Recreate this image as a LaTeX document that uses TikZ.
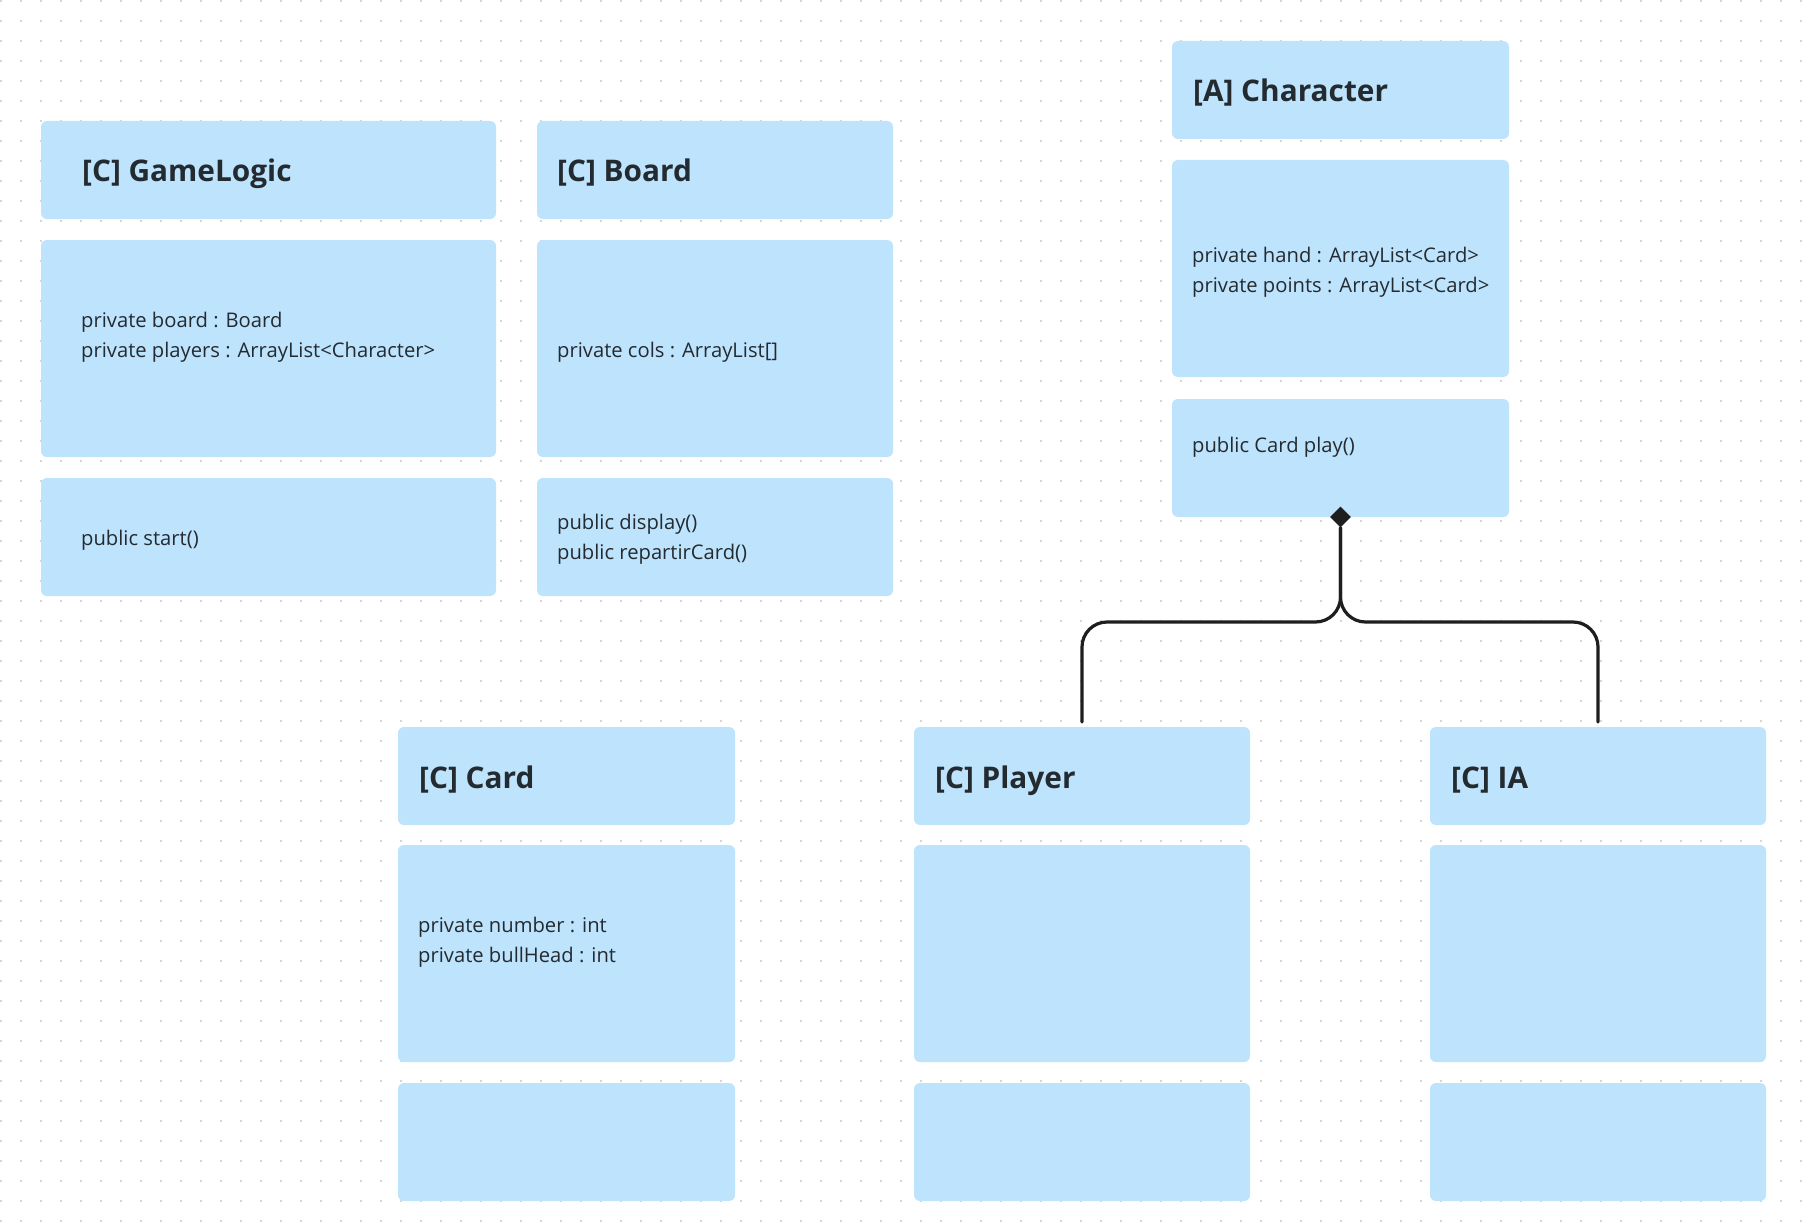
\documentclass[tikz,border=0pt]{standalone}
\usepackage{fontspec}
\setmainfont{Open Sans}
\usetikzlibrary{shapes.geometric}
\definecolor{boxblue}{HTML}{BEE3FD}
\definecolor{inkc}{HTML}{242B30}
\definecolor{dotc}{HTML}{C8C8C8}
\definecolor{linec}{HTML}{1E1E1E}
\tikzset{
  umlbox/.style={fill=boxblue, rounded corners=6pt, inner sep=0pt, outer sep=0pt, anchor=north west, minimum width=#1},
  hdr/.style={umlbox=#1, minimum height=98pt},
  attrbox/.style={umlbox=#1, minimum height=217pt},
  methbox/.style={umlbox=#1, minimum height=118pt},
  ttl/.style={anchor=base west, inner sep=0pt, text=inkc, font=\fontsize{29.8}{36}\selectfont\bfseries},
  body/.style={anchor=base west, inner sep=0pt, text=inkc, font=\fontsize{20.2}{30}\selectfont, align=left},
  conn/.style={draw=linec, line width=3.2pt, line cap=round, rounded corners=25pt},
}
\begin{document}
\begin{tikzpicture}[x=1pt,y=-1pt]
\useasboundingbox (0,0) rectangle (1810,1228);
\fill[white] (0,0) rectangle (1810,1228);
\foreach \i in {0,...,90}{
  \foreach \j in {0,...,61}{
    \fill[dotc] (1+20*\i,1+20*\j) circle (1.2pt);
  }
}
% GameLogic
\node[hdr=455pt] (glH) at (41,121) {};
\node[attrbox=455pt] (glA) at (41,240) {};
\node[methbox=455pt] (glM) at (41,478) {};
\node[ttl] (glT) at (82,182) {[C] GameLogic};
\node[body] (glAt) at (81,357) {private board : Board\\private players : ArrayList<Character>};
\node[body] (glMt) at (81,545) {public start()};
% Board
\node[hdr=356pt] (bdH) at (537,121) {};
\node[attrbox=356pt] (bdA) at (537,240) {};
\node[methbox=356pt] (bdM) at (537,478) {};
\node[ttl] (bdT) at (557,182) {[C] Board};
\node[body] (bdAt) at (557,357) {private cols : ArrayList[]};
\node[body] (bdMt) at (557,559) {public display()\\public repartirCard()};
% Character
\node[hdr=337pt] (chH) at (1172,41) {};
\node[attrbox=337pt] (chA) at (1172,160) {};
\node[methbox=337pt] (chM) at (1172,399) {};
\node[ttl] (chT) at (1193,102) {[A] Character};
\node[body] (chAt) at (1192,292) {private hand : ArrayList<Card>\\private points : ArrayList<Card>};
\node[body] (chMt) at (1192,452) {public Card play()};
% Card
\node[hdr=337pt] (cdH) at (398,727) {};
\node[attrbox=337pt] (cdA) at (398,845) {};
\node[methbox=337pt] (cdM) at (398,1083) {};
\node[ttl] (cdT) at (419,788) {[C] Card};
\node[body] (cdAt) at (418,962) {private number : int\\private bullHead : int};
% Player
\node[hdr=336pt] (plH) at (914,727) {};
\node[attrbox=336pt] (plA) at (914,845) {};
\node[methbox=336pt] (plM) at (914,1083) {};
\node[ttl] (plT) at (935,788) {[C] Player};
% IA
\node[hdr=336pt] (iaH) at (1430,727) {};
\node[attrbox=336pt] (iaA) at (1430,845) {};
\node[methbox=336pt] (iaM) at (1430,1083) {};
\node[ttl] (iaT) at (1451,788) {[C] IA};
% connectors
\node[diamond, fill=linec, inner sep=0pt, minimum width=21pt, minimum height=21pt] (dia) at (chM.south) {};
\coordinate (bus) at (0,622);
\draw[conn] (dia.south) -- (dia.south |- bus) -| ([yshift=5pt]plH.north);
\draw[conn] (dia.south) -- (dia.south |- bus) -| ([yshift=5pt]iaH.north);
\end{tikzpicture}
\end{document}
